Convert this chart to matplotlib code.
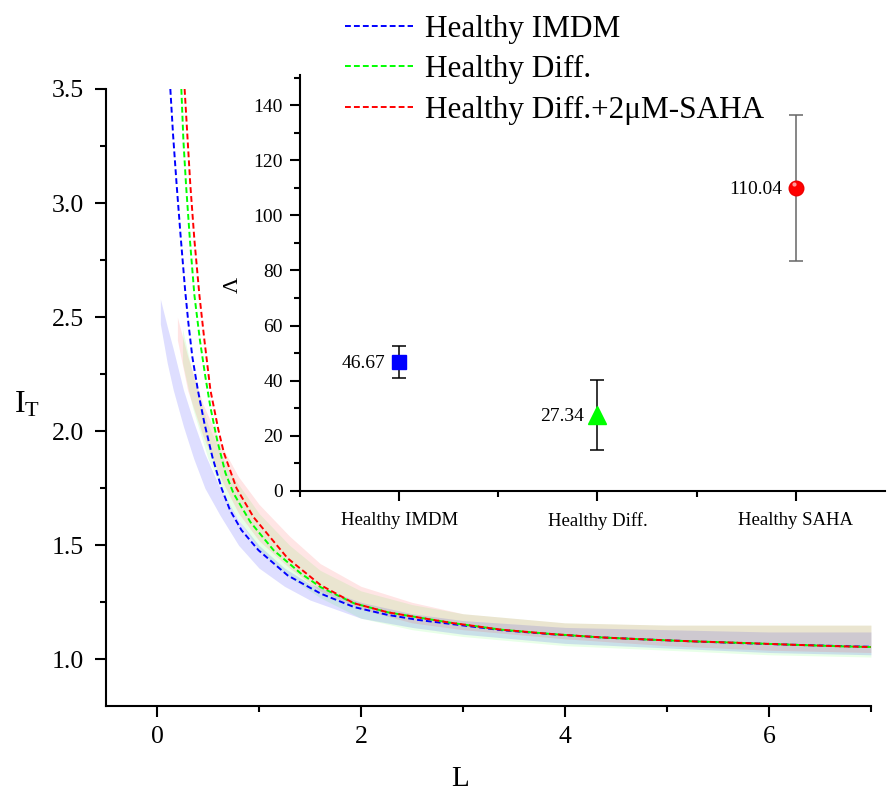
import matplotlib

matplotlib.use("Agg")

import matplotlib.pyplot as plt
from matplotlib.ticker import MultipleLocator

# fitted I_T(L) curves
L_imdm = [0.131, 0.158, 0.193, 0.231, 0.276, 0.308, 0.347, 0.401, 0.465, 0.544, 0.633, 0.716,
          0.829, 0.996, 1.281, 1.606, 1.933, 2.261, 2.557, 2.884, 3.376, 3.868, 4.359, 4.851,
          5.244, 5.736, 6.228, 6.72, 7.0]
I_imdm = [3.50, 3.298, 3.079, 2.860, 2.618, 2.474, 2.325, 2.180, 2.035, 1.886, 1.750, 1.654,
          1.566, 1.478, 1.368, 1.288, 1.229, 1.195, 1.173, 1.155, 1.128, 1.110, 1.096, 1.086,
          1.079, 1.071, 1.064, 1.058, 1.055]

L_diff = [0.239, 0.259, 0.285, 0.323, 0.367, 0.421, 0.475, 0.524, 0.590, 0.672, 0.750, 0.917,
          1.144, 1.409, 1.606, 1.930, 2.264, 2.559, 2.884, 3.376, 3.868, 4.359, 4.851, 5.244,
          5.736, 6.228, 6.72, 7.0]
I_diff = [3.50, 3.276, 3.079, 2.838, 2.596, 2.399, 2.237, 2.105, 1.961, 1.816, 1.728, 1.601,
          1.478, 1.377, 1.316, 1.246, 1.206, 1.184, 1.160, 1.130, 1.111, 1.096, 1.086, 1.079,
          1.072, 1.064, 1.057, 1.054]

L_saha = [0.271, 0.327, 0.367, 0.416, 0.465, 0.524, 0.603, 0.657, 0.780, 0.947, 1.281, 1.606,
          1.930, 2.264, 2.559, 2.884, 3.376, 3.868, 4.359, 4.851, 5.244, 5.736, 6.228, 6.72, 7.0]
I_saha = [3.50, 3.079, 2.838, 2.596, 2.399, 2.180, 2.004, 1.904, 1.750, 1.623, 1.443, 1.325,
          1.246, 1.206, 1.184, 1.160, 1.130, 1.111, 1.096, 1.086, 1.079, 1.072, 1.064, 1.057,
          1.054]

# confidence bands (lower / upper edge)
band_L_imdm = [0.033, 0.10, 0.16, 0.26, 0.36, 0.47, 0.62, 0.8, 1.0, 1.25, 1.5, 2.0, 2.5, 3.0,
               4.0, 5.0, 6.0, 7.0]
band_lo_imdm = [2.47, 2.30, 2.18, 2.02, 1.88, 1.75, 1.63, 1.50, 1.40, 1.32, 1.26, 1.18, 1.14,
                1.11, 1.07, 1.05, 1.03, 1.02]
band_hi_imdm = [2.58, 2.46, 2.36, 2.18, 2.04, 1.90, 1.75, 1.61, 1.50, 1.40, 1.33, 1.25, 1.20,
                1.17, 1.14, 1.13, 1.12, 1.12]

band_L_diff = [0.25, 0.35, 0.5, 0.7, 1.0, 1.3, 1.6, 2.0, 2.5, 3.0, 4.0, 5.0, 6.0, 7.0]
band_lo_diff = [2.30, 2.10, 1.88, 1.68, 1.48, 1.36, 1.27, 1.18, 1.13, 1.10, 1.06, 1.04, 1.02, 1.01]
band_hi_diff = [2.45, 2.25, 2.03, 1.83, 1.64, 1.50, 1.39, 1.30, 1.24, 1.20, 1.16, 1.15, 1.15, 1.15]

band_L_saha = [0.2, 0.3, 0.45, 0.64, 0.8, 1.0, 1.3, 1.6, 2.0, 2.5, 3.0, 4.0, 5.0, 6.0, 7.0]
band_lo_saha = [2.40, 2.18, 1.98, 1.78, 1.64, 1.52, 1.40, 1.30, 1.22, 1.16, 1.13, 1.09, 1.06,
                1.04, 1.03]
band_hi_saha = [2.50, 2.33, 2.12, 1.93, 1.80, 1.68, 1.54, 1.42, 1.32, 1.25, 1.20, 1.16, 1.15,
                1.15, 1.15]

legend_labels = ["Healthy IMDM", "Healthy Diff.", "Healthy Diff.+2\u03bcM-SAHA"]

# inset: fitted Lambda per condition
groups = ["Healthy IMDM", "Healthy Diff.", "Healthy SAHA"]
lam = [46.67, 27.34, 110.04]
lam_err = [5.75, 12.7, 26.5]

plt.rcParams["font.family"] = ["Liberation Serif", "DejaVu Serif"]
plt.rcParams["mathtext.fontset"] = "custom"
plt.rcParams["mathtext.rm"] = "Liberation Serif"
plt.rcParams["mathtext.it"] = "Liberation Serif"

fig = plt.figure(figsize=(8.89, 7.97), dpi=100)
ax = fig.add_axes([0.1192, 0.1146, 0.8605, 0.7738])

ax.fill_between(band_L_imdm, band_lo_imdm, band_hi_imdm, color="#0000ff", alpha=0.13, lw=0)
ax.fill_between(band_L_diff, band_lo_diff, band_hi_diff, color="#00ff00", alpha=0.09, lw=0)
ax.fill_between(band_L_saha, band_lo_saha, band_hi_saha, color="#ff0000", alpha=0.10, lw=0)

dash = (0, (3, 1.6))
lines = []
for L, I, color in [(L_imdm, I_imdm, "#0000ff"), (L_diff, I_diff, "#00ff00"), (L_saha, I_saha, "#ff0000")]:
    (ln,) = ax.plot(L, I, color=color, lw=1.4, linestyle=dash)
    lines.append(ln)

ax.set_xlim(-0.5, 7.0)
ax.set_ylim(0.797, 3.5)
ax.xaxis.set_major_locator(MultipleLocator(2))
ax.xaxis.set_minor_locator(MultipleLocator(1))
ax.yaxis.set_major_locator(MultipleLocator(0.5))
ax.yaxis.set_minor_locator(MultipleLocator(0.25))
ax.yaxis.set_major_formatter(plt.FormatStrFormatter("%.1f"))
for side in ["top", "right"]:
    ax.spines[side].set_visible(False)
for side in ["left", "bottom"]:
    ax.spines[side].set_linewidth(1.5)
ax.tick_params(which="major", length=8, width=1.5, labelsize=18.5, pad=8)
ax.tick_params(axis="x", which="major", pad=7)
ax.tick_params(which="minor", length=4.5, width=1.5)
ax.set_xlabel("L", fontsize=21)
ax.set_ylabel(r"$\mathrm{I_T}$", fontsize=23, rotation=0, ha="center", va="center")
ax.xaxis.set_label_coords((460 - 106) / 765, -0.098)
ax.yaxis.set_label_coords((27 - 106) / 765, 0.4876)

fig.legend(lines, legend_labels, loc="upper left", bbox_to_anchor=(345 / 889, 0.981),
           frameon=False, fontsize=22.5, borderpad=0, borderaxespad=0,
           handlelength=2.18, handletextpad=0.38, labelspacing=0.36)

# inset
ax2 = fig.add_axes([0.3375, 0.3843, 0.658, 0.5216])
ax2.patch.set_alpha(0)
pos = [1, 2, 3]
ecolors = ["#000000", "#000000", "#666666"]
for i in range(3):
    ax2.errorbar(pos[i], lam[i], yerr=lam_err[i], fmt="none", ecolor=ecolors[i],
                 elinewidth=1.1, capsize=5, capthick=1.1)
ax2.plot(pos[0], lam[0], marker="s", ms=9.5, color="#0000ff", mec="#0000ff", ls="none")
ax2.plot(pos[1], lam[1], marker="^", ms=13, color="#00ff00", mec="#00ff00", ls="none")
ax2.plot(pos[2], lam[2], marker="o", ms=10.5, color="#ff0000", mec="#ee0000", ls="none")
ax2.plot(pos[2] - 0.01, lam[2] + 1.2, marker="o", ms=3, color="#ff9a9a", mec="none", ls="none")
for i in range(3):
    ax2.annotate(f"{lam[i]:.2f}", (pos[i], lam[i]), xytext=(-10, -1), textcoords="offset points",
                 ha="right", va="center", fontsize=14)

ax2.set_xlim(0.5, 3.45)
ax2.set_ylim(0, 151)
ax2.set_xticks(pos)
ax2.set_xticklabels(groups)
ax2.xaxis.set_minor_locator(MultipleLocator(0.5))
ax2.yaxis.set_major_locator(MultipleLocator(20))
ax2.yaxis.set_minor_locator(MultipleLocator(10))
for side in ["top", "right"]:
    ax2.spines[side].set_visible(False)
for side in ["left", "bottom"]:
    ax2.spines[side].set_linewidth(1.5)
ax2.tick_params(which="major", length=7.5, width=1.5, labelsize=14, pad=5)
ax2.tick_params(axis="x", which="major", labelsize=13.5, pad=8)
ax2.tick_params(which="minor", length=4, width=1.5)
ax2.set_ylabel("\u039b", fontsize=16)
ax2.yaxis.set_label_coords((243 - 300) / 585, 0.495)

fig.savefig("out.png", dpi=100)
plt.close(fig)
